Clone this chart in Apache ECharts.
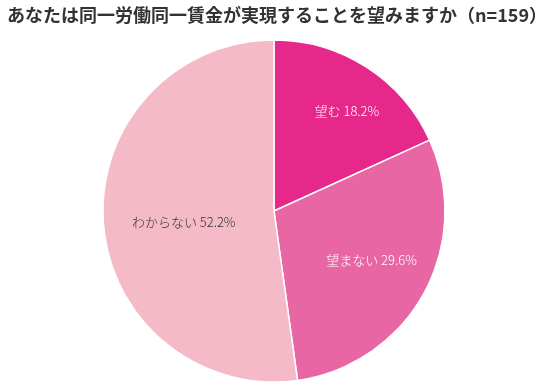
<!DOCTYPE html>
<html>
<head>
<meta charset="utf-8">
<script src="https://cdn.jsdelivr.net/npm/echarts@6/dist/echarts.min.js"></script>
<style>html,body{margin:0;padding:0;background:#fff;}#c{width:544px;height:385px;}</style>
</head>
<body>
<div id="c"></div>
<script>
const titleText = 'あなたは同一労働同一賃金が実現することを望みますか（n=159）';
const categories = ['望む', '望まない', 'わからない'];
const values = [18.2, 29.6, 52.2];
const colors = ['#E5288A', '#E866A4', '#F4BAC7'];
const labelColors = ['#ffffff', '#ffffff', '#333333'];
const labelShift = [[25, -26], [20, 6], [-2, 5]];

const chart = echarts.init(document.getElementById('c'), null, {renderer: 'canvas'});
chart.setOption({
  animation: false,
  title: {
    text: titleText,
    left: 2, top: 1,
    textStyle: {fontFamily: 'Noto Sans CJK JP', fontWeight: 'bold', fontSize: 18, color: '#333333'}
  },
  series: [{
    type: 'pie',
    center: [274, 211],
    radius: [0, 171],
    startAngle: 90,
    clockwise: true,
    avoidLabelOverlap: false,
    itemStyle: {borderColor: '#ffffff', borderWidth: 1.5},
    label: {
      position: 'inside',
      fontFamily: 'Noto Sans CJK JP',
      fontSize: 13,
      fontWeight: 300,
      formatter: p => p.name + ' ' + p.value.toFixed(1) + '%'
    },
    labelLayout: p => ({dx: labelShift[p.dataIndex][0], dy: labelShift[p.dataIndex][1]}),
    emphasis: {disabled: true},
    data: categories.map((n, i) => ({
      name: n, value: values[i],
      itemStyle: {color: colors[i]},
      label: {color: labelColors[i]}
    }))
  }]
});
</script>
</body>
</html>
